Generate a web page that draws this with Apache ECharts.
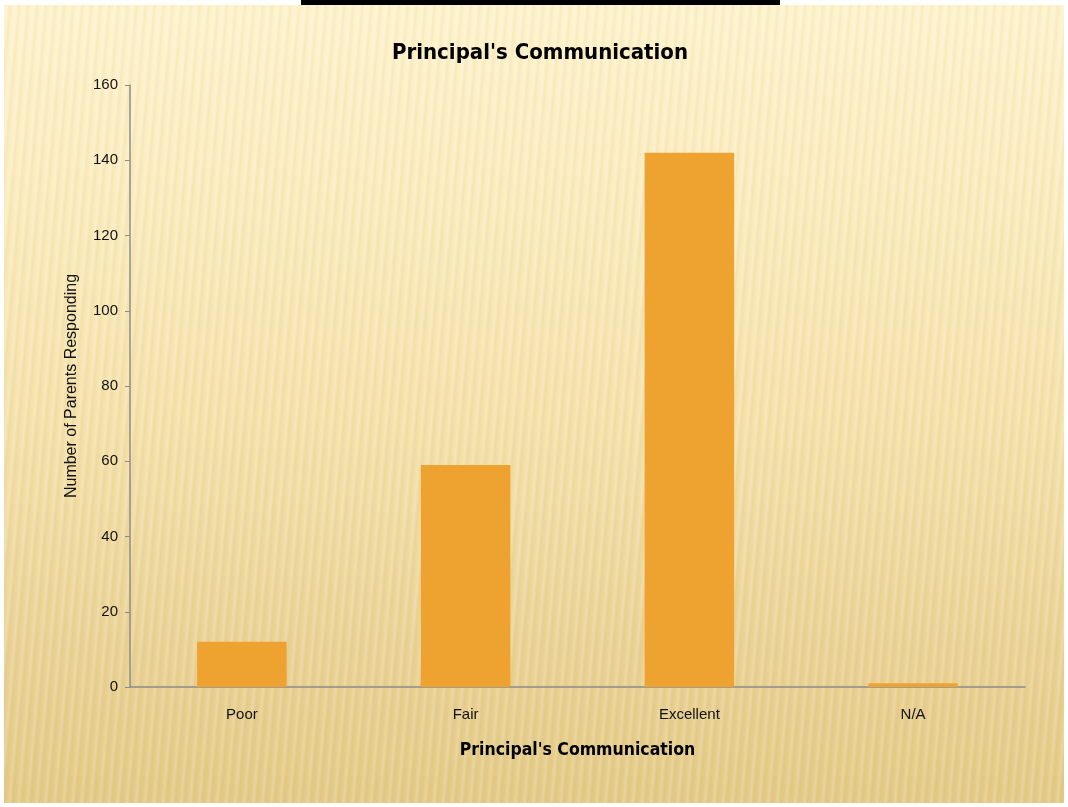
<!DOCTYPE html>
<html>
<head>
<meta charset="utf-8">
<script src="https://cdn.jsdelivr.net/npm/echarts@6/dist/echarts.min.js"></script>
<style>
    html, body { margin: 0; padding: 0; background: #ffffff; }
    #wrap {
        position: absolute; left: 4px; top: 5px; width: 1060px; height: 798px;
        background:
            repeating-linear-gradient(95deg, rgba(255,255,255,0) 0px, rgba(255,255,255,0.18) 3px, rgba(200,170,90,0.10) 6px, rgba(255,255,255,0) 9px),
            linear-gradient(180deg, #fef3cd 0%, #fbecbe 25%, #f4e0a8 55%, #ead295 80%, #e3c985 100%);
    }
    #topline { position: absolute; left: 301px; top: 0; width: 479px; height: 5px; background: #000; }
    #main { position: absolute; left: 0; top: 0; width: 1068px; height: 807px; }
</style>
</head>
<body>
<div id="wrap"></div>
<div id="topline"></div>
<div id="main"></div>
<script>
    var categories = ['Poor', 'Fair', 'Excellent', 'N/A'];
    var responses = [12, 59, 142, 1];

    var chart = echarts.init(document.getElementById('main'));

    var option = {
        backgroundColor: 'transparent',
        animation: false,
        title: {
            text: "Principal's Communication",
            left: 535,
            top: 37,
            textAlign: 'center',
            textStyle: {
                fontFamily: '"Liberation Sans Narrow", "DejaVu Sans Condensed", sans-serif',
                fontWeight: 'bold',
                fontSize: 22,
                color: '#000'
            }
        },
        grid: {
            left: 130,
            right: 43,
            top: 85,
            bottom: 120
        },
        xAxis: {
            type: 'category',
            data: categories,
            name: "Principal's Communication",
            nameLocation: 'middle',
            nameGap: 54,
            nameTextStyle: {
                fontFamily: '"Liberation Sans Narrow", "DejaVu Sans Condensed", sans-serif',
                fontWeight: 'bold',
                fontSize: 17.5,
                color: '#000'
            },
            axisLine: { lineStyle: { color: '#8c8c8c', width: 1.5 } },
            axisTick: { length: 6, lineStyle: { color: '#8c8c8c' } },
            axisLabel: {
                margin: 20,
                fontFamily: '"Liberation Sans", sans-serif',
                fontSize: 15,
                color: '#111'
            }
        },
        yAxis: {
            type: 'value',
            min: 0,
            max: 160,
            interval: 20,
            name: 'Number of Parents Responding',
            nameLocation: 'middle',
            nameGap: 50,
            nameTextStyle: {
                fontFamily: '"Liberation Sans", sans-serif',
                fontSize: 16,
                color: '#111'
            },
            axisLine: { show: true, lineStyle: { color: '#8c8c8c', width: 1.5 } },
            axisTick: { show: true, length: 5, lineStyle: { color: '#8c8c8c' } },
            splitLine: { show: false },
            axisLabel: {
                margin: 12,
                fontFamily: '"Liberation Sans", sans-serif',
                fontSize: 15,
                color: '#111'
            }
        },
        series: [
            {
                type: 'bar',
                data: responses,
                barWidth: '40%',
                itemStyle: { color: '#eea331' }
            }
        ]
    };

    chart.setOption(option);
</script>
</body>
</html>
